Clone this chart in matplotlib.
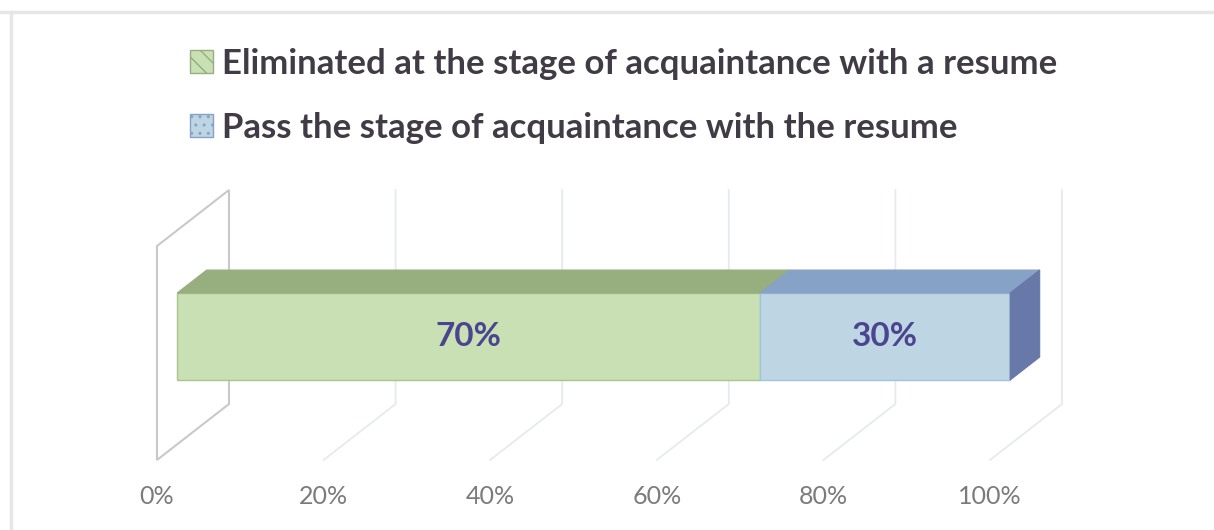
import matplotlib.pyplot as plt
from matplotlib.patches import Polygon, Patch

# data
categories = ["Eliminated at the stage of acquaintance with a resume",
              "Pass the stage of acquaintance with the resume"]
shares = [0.70, 0.30]
data_labels = ["70%", "30%"]
tick_values = [0.0, 0.2, 0.4, 0.6, 0.8, 1.0]
tick_labels = ["0%", "20%", "40%", "60%", "80%", "100%"]

front_colors = ["#c9e0b4", "#bed6e3"]
top_colors = ["#97ae7f", "#86a2c6"]
side_color = "#6878a8"
edge_colors = ["#a9c48f", "#9cc6dc"]

# layout (x in data fraction, y in pixel units from top)
X0_PX, SCALE_PX = 157, 833
DX = 72 / SCALE_PX        # full floor depth in x data units
DY = 56                   # full floor depth in y units
FLOOR_FRONT, FLOOR_BACK, WALL_TOP = 460, 404, 190
BAR_TOP, BAR_BOT = 293, 380
D_FRONT, D_BACK = 0.28, 0.69

plt.rcParams["hatch.color"] = "#9bbb7e"

fig = plt.figure(figsize=(12.14, 5.30), dpi=100)
ax = fig.add_axes([0, 0, 1, 1])
ax.set_xlim(-X0_PX / SCALE_PX, (1214 - X0_PX) / SCALE_PX)
ax.set_ylim(530, 0)
ax.axis("off")

# outer frame of the cropped chart
ax.plot([(11 - X0_PX) / SCALE_PX] * 2, [12, 530], color="#e6e6e6", lw=2.5)
ax.plot(ax.get_xlim(), [12, 12], color="#e6e6e6", lw=2.5)

# grid lines on back wall and floor
for t in tick_values[1:]:
    ax.plot([t + DX, t + DX, t], [WALL_TOP, FLOOR_BACK, FLOOR_FRONT],
            color="#e6eaee", lw=1.3, zorder=1)

# side wall at 0%
wall_h = FLOOR_BACK - WALL_TOP
wall = Polygon([(0, FLOOR_FRONT - wall_h), (DX, WALL_TOP), (DX, FLOOR_BACK), (0, FLOOR_FRONT)],
               closed=True, fill=False, edgecolor="#c9c9c9", lw=1.5, zorder=2)
ax.add_patch(wall)

# stacked 3D bar
dx_f, dx_b = D_FRONT * DX, D_BACK * DX
dy = (D_BACK - D_FRONT) * DY
left = 0
for i, s in enumerate(shares):
    right = left + s
    ax.barh((BAR_TOP + BAR_BOT) / 2, s, left=left + dx_f, height=BAR_BOT - BAR_TOP,
            color=front_colors[i], edgecolor=edge_colors[i], lw=1, zorder=4)
    top = Polygon([(left + dx_f, BAR_TOP), (right + dx_f, BAR_TOP),
                   (right + dx_b, BAR_TOP - dy), (left + dx_b, BAR_TOP - dy)],
                  closed=True, facecolor=top_colors[i], edgecolor=top_colors[i], lw=0.8, zorder=4)
    ax.add_patch(top)
    ax.text(left + dx_f + s / 2, (BAR_TOP + BAR_BOT) / 2, data_labels[i],
            ha="center", va="center", fontsize=24, fontweight="bold",
            color="#4b4590", family="Lato", zorder=5)
    left = right

side = Polygon([(left + dx_f, BAR_TOP), (left + dx_b, BAR_TOP - dy),
                (left + dx_b, BAR_BOT - dy), (left + dx_f, BAR_BOT)],
               closed=True, facecolor=side_color, edgecolor=side_color, lw=0.8, zorder=4)
ax.add_patch(side)

# tick labels along the front floor edge
for t, lab in zip(tick_values, tick_labels):
    ax.text(t, 497, lab, ha="center", va="center", fontsize=18,
            color="#7b7b7b", family="Lato")

# legend
handles = [Patch(facecolor=front_colors[i], edgecolor=top_colors[i], hatch="\\\\" if i == 0 else "..",
                 label=categories[i]) for i in range(2)]
leg = ax.legend(handles=handles, loc="upper left", bbox_to_anchor=(190 / 1214, 1 - 48 / 530),
                frameon=False, prop={"family": "Lato", "weight": "bold", "size": 25},
                handlelength=0.65, handleheight=0.65, handletextpad=0.26, labelspacing=0.92,
                borderaxespad=0, borderpad=0)
for txt in leg.get_texts():
    txt.set_color("#413b46")

fig.savefig("out.png", dpi=100)
